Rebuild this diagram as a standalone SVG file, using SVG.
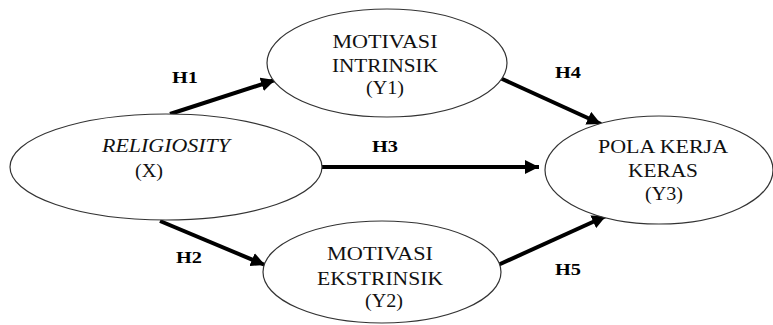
<svg xmlns="http://www.w3.org/2000/svg" width="773" height="325" viewBox="0 0 773 325">
<style>
.node ellipse{fill:#fff;stroke:#333;stroke-width:1.2}
.t{font-family:"Liberation Serif","Times New Roman",serif;font-size:18px;fill:#111;text-anchor:middle}
.h{font-family:"Liberation Serif","Times New Roman",serif;font-size:17px;font-weight:bold;fill:#000;text-anchor:middle}
.c line{stroke:#000;stroke-width:4;marker-end:url(#ah)}
</style>
<defs>
<marker id="ah" markerUnits="userSpaceOnUse" markerWidth="16" markerHeight="14" refX="14" refY="7" orient="auto">
<path d="M0,0 L14,7 L0,14 Z" fill="#000"/>
</marker>
</defs>
<g class="c" id="connectors">
<line x1="170" y1="114" x2="275" y2="80"/>
<line x1="160" y1="221" x2="265" y2="265"/>
<line x1="322" y1="167" x2="539" y2="167"/>
<line x1="500" y1="78" x2="601" y2="124"/>
<line x1="498" y1="265" x2="606" y2="216"/>
</g>
<g id="religiosity" class="node">
<ellipse cx="166" cy="167" rx="156" ry="53"/>
<text class="t" x="166" y="152" font-style="italic" textLength="128" lengthAdjust="spacingAndGlyphs">RELIGIOSITY</text>
<text class="t" x="149" y="177" textLength="28" lengthAdjust="spacingAndGlyphs">(X)</text>
</g>
<g id="intrinsik" class="node">
<ellipse cx="387" cy="63" rx="120" ry="54"/>
<text class="t" x="385" y="48" textLength="105" lengthAdjust="spacingAndGlyphs">MOTIVASI</text>
<text class="t" x="385" y="72" textLength="106" lengthAdjust="spacingAndGlyphs">INTRINSIK</text>
<text class="t" x="385" y="94" textLength="38" lengthAdjust="spacingAndGlyphs">(Y1)</text>
</g>
<g id="ekstrinsik" class="node">
<ellipse cx="382" cy="272" rx="119" ry="51"/>
<text class="t" x="380" y="260" textLength="106" lengthAdjust="spacingAndGlyphs">MOTIVASI</text>
<text class="t" x="380" y="285" textLength="126" lengthAdjust="spacingAndGlyphs">EKSTRINSIK</text>
<text class="t" x="384" y="307" textLength="38" lengthAdjust="spacingAndGlyphs">(Y2)</text>
</g>
<g id="polakerja" class="node">
<ellipse cx="659" cy="170" rx="114" ry="54"/>
<text class="t" x="663" y="153" textLength="130" lengthAdjust="spacingAndGlyphs">POLA KERJA</text>
<text class="t" x="663" y="177" textLength="70" lengthAdjust="spacingAndGlyphs">KERAS</text>
<text class="t" x="664" y="200" textLength="38" lengthAdjust="spacingAndGlyphs">(Y3)</text>
</g>
<g id="labels">
<text class="h" x="185" y="83" textLength="26" lengthAdjust="spacingAndGlyphs">H1</text>
<text class="h" x="189" y="263" textLength="26" lengthAdjust="spacingAndGlyphs">H2</text>
<text class="h" x="385" y="152" textLength="26" lengthAdjust="spacingAndGlyphs">H3</text>
<text class="h" x="568" y="78" textLength="26" lengthAdjust="spacingAndGlyphs">H4</text>
<text class="h" x="568" y="275" textLength="26" lengthAdjust="spacingAndGlyphs">H5</text>
</g>
</svg>
